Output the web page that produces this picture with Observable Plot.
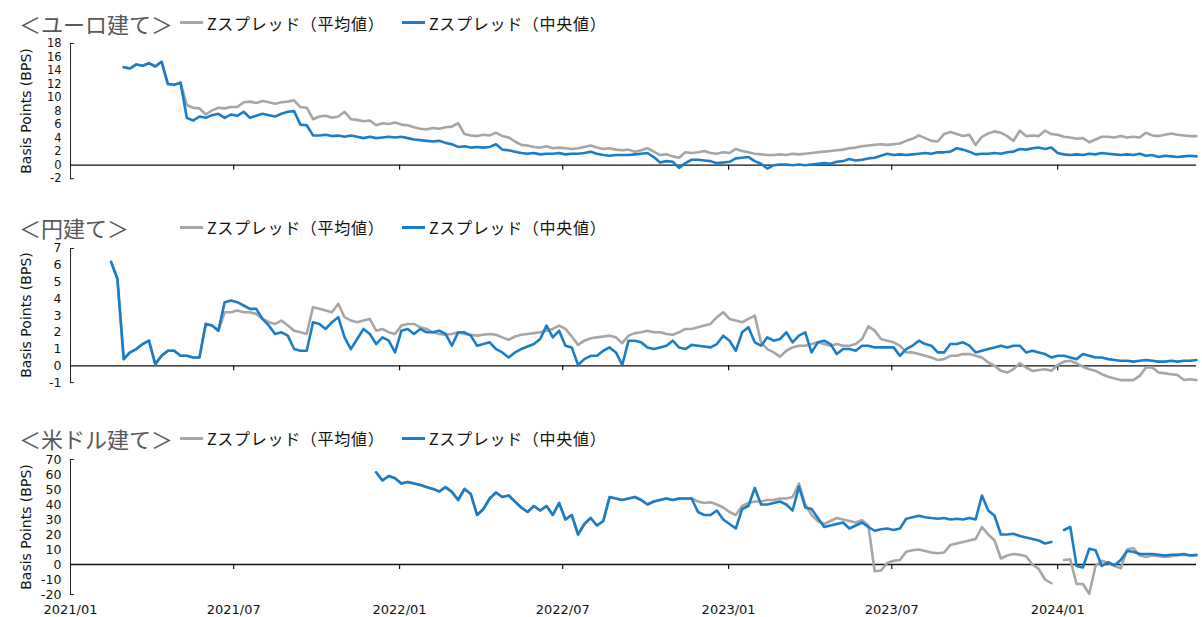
<!DOCTYPE html>
<html><head><meta charset="utf-8">
<script src="https://cdn.jsdelivr.net/npm/d3@7"></script>
<script src="https://cdn.jsdelivr.net/npm/@observablehq/plot@0.6"></script>
<style>
body{margin:0;background:#fff;}
#chart{position:relative;width:1202px;height:617px;overflow:hidden;background:#fff;font-family:"Noto Sans CJK JP","Noto Sans",sans-serif;}
.title{position:absolute;left:19px;font-size:22px;line-height:22px;color:#595959;white-space:nowrap;}
.leg{position:absolute;font-size:16px;line-height:18px;letter-spacing:0.7px;color:#111;white-space:nowrap;display:flex;align-items:center;}
.leg i{display:inline-block;width:23px;height:3px;margin-right:4px;}
.ylab{position:absolute;font-family:"DejaVu Sans",sans-serif;font-size:14px;color:#111;white-space:nowrap;transform:translate(-50%,-50%) rotate(-90deg);}
#chart svg{position:absolute;left:0;overflow:visible;}
</style></head><body><div id="chart"></div><script>
// ---- data (weekly observations) ----
const weekStep = 7;
const eurStart = "2021-03-01";
const eurMedian = [
14.5,14.3,14.9,14.7,15.1,14.6,15.3,12.0,11.9,12.2,
7.0,6.6,7.2,7.0,7.4,7.6,7.0,7.5,7.3,7.9,
7.0,7.3,7.6,7.4,7.2,7.6,7.9,8.0,6.0,5.9,
4.4,4.4,4.5,4.3,4.4,4.2,4.4,4.2,4.0,4.2,
4.0,4.1,4.2,4.1,4.2,4.0,3.8,3.7,3.6,3.5,
3.6,3.3,3.1,2.7,2.8,2.6,2.7,2.6,2.7,3.1,
2.3,2.2,2.0,1.8,1.7,1.8,1.6,1.7,1.7,1.8,
1.6,1.7,1.7,1.8,2.0,1.7,1.5,1.4,1.5,1.5,
1.5,1.6,1.7,1.8,1.2,0.4,0.6,0.5,-0.4,0.3,
0.8,0.8,0.7,0.6,0.3,0.4,0.5,1.0,1.1,1.2,
0.6,0.2,-0.5,0.0,0.1,0.1,0.0,0.1,0.0,0.1,
0.2,0.3,0.2,0.5,0.6,0.9,0.7,0.8,1.0,1.1,
1.4,1.7,1.5,1.6,1.5,1.6,1.7,1.8,1.7,1.9,
1.9,2.0,2.5,2.3,2.0,1.6,1.7,1.7,1.8,1.7,
1.9,2.0,2.4,2.3,2.5,2.6,2.4,2.6,1.8,1.6,
1.5,1.6,1.5,1.7,1.6,1.8,1.7,1.6,1.5,1.6,
1.5,1.7,1.4,1.5,1.2,1.4,1.3,1.2,1.3,1.4,1.3];
const eurMean = [
14.5,14.3,14.9,14.7,15.1,14.6,15.3,12.0,11.9,12.2,
8.9,8.5,8.4,7.5,8.1,8.5,8.4,8.6,8.6,9.3,
9.4,9.2,9.5,9.3,9.1,9.3,9.4,9.6,8.6,8.5,
6.8,7.2,7.3,7.0,7.2,7.9,6.8,6.7,6.5,6.6,
5.9,6.2,6.1,6.3,6.0,5.9,5.6,5.4,5.3,5.5,
5.4,5.6,5.7,6.2,4.6,4.4,4.3,4.5,4.4,4.8,
4.3,4.1,3.5,3.0,2.9,2.7,2.6,2.8,2.5,2.6,
2.5,2.4,2.5,2.7,2.9,2.6,2.4,2.5,2.3,2.2,
2.3,2.0,2.2,2.5,2.0,1.5,1.6,1.3,1.1,1.9,
1.8,1.9,2.1,1.8,1.7,1.9,1.8,2.4,2.1,1.9,
1.7,1.6,1.5,1.5,1.6,1.5,1.7,1.6,1.7,1.8,
1.9,2.0,2.1,2.2,2.3,2.5,2.6,2.8,2.9,3.0,
3.1,3.0,3.1,3.2,3.6,3.9,4.4,4.0,3.6,3.5,
4.6,4.9,4.6,4.3,4.5,3.0,4.2,4.7,5.0,4.8,
4.3,3.6,5.1,4.3,4.4,4.3,5.1,4.6,4.5,4.2,
4.1,3.9,4.0,3.4,3.8,4.2,4.2,4.1,4.3,4.1,
4.2,4.1,4.8,4.4,4.3,4.5,4.7,4.5,4.4,4.3,4.3];

const jpyStart = "2021-02-15";
const jpyMedian = [
6.2,5.2,0.4,0.8,1.0,1.3,1.5,0.1,0.6,0.9,
0.9,0.6,0.6,0.5,0.5,2.5,2.4,2.1,3.8,3.9,
3.8,3.6,3.4,3.4,2.8,2.4,1.9,2.0,1.8,1.0,
0.9,0.9,2.6,2.5,2.2,2.6,2.9,1.7,1.0,1.6,
2.2,1.9,1.3,1.7,1.5,0.8,2.1,2.2,1.9,2.2,
2.0,2.0,2.1,1.9,1.2,2.0,2.0,1.8,1.2,1.3,
1.4,1.0,0.8,0.5,0.8,1.0,1.15,1.3,1.6,2.4,
1.7,2.1,1.2,1.1,0.05,0.4,0.6,0.6,0.9,1.1,
0.8,0.05,1.5,1.5,1.4,1.1,1.0,1.1,1.2,1.5,
1.1,1.0,1.25,1.2,1.15,1.1,1.3,1.8,1.5,0.9,
2.0,2.3,1.4,1.2,1.7,1.5,1.6,2.0,1.4,1.8,
2.0,0.8,1.4,1.5,1.3,0.7,1.0,1.0,0.9,1.2,
1.2,1.1,1.1,1.1,1.1,0.6,1.0,1.2,1.5,1.3,
1.2,0.8,0.8,1.3,1.3,1.4,1.2,0.8,0.9,1.0,
1.1,1.2,1.1,1.2,1.2,0.8,0.9,0.8,0.7,0.5,
0.6,0.6,0.5,0.4,0.7,0.6,0.5,0.5,0.4,0.35,
0.3,0.3,0.25,0.3,0.35,0.3,0.25,0.25,0.3,0.25,0.3,0.3,0.35];
const jpyMean = [
6.2,5.2,0.4,0.8,1.0,1.3,1.5,0.1,0.6,0.9,
0.9,0.6,0.6,0.5,0.5,2.5,2.4,2.1,3.2,3.2,
3.3,3.2,3.2,3.1,2.8,2.6,2.5,2.7,2.4,2.1,
2.0,1.9,3.5,3.4,3.3,3.2,3.7,2.9,2.7,2.6,
2.7,2.8,2.1,2.2,2.0,1.9,2.4,2.5,2.5,2.3,
2.2,2.0,1.9,1.85,1.9,2.0,1.9,1.85,1.8,1.85,
1.9,1.85,1.7,1.55,1.75,1.85,1.9,1.95,2.0,2.1,
2.2,2.4,2.2,1.75,1.25,1.5,1.65,1.7,1.75,1.8,
1.7,1.35,1.8,1.95,2.0,2.1,2.0,2.0,1.9,1.85,
2.0,2.2,2.2,2.3,2.4,2.5,2.9,3.2,2.8,2.7,
2.6,2.8,3.0,1.4,1.0,0.8,0.55,0.9,1.1,1.2,
1.2,1.3,1.4,1.3,1.2,1.3,1.2,1.2,1.3,1.6,
2.35,2.1,1.6,1.5,1.4,1.2,0.8,0.8,0.7,0.6,
0.5,0.35,0.4,0.6,0.6,0.7,0.7,0.6,0.5,0.2,
0.0,-0.3,-0.4,-0.2,0.15,-0.1,-0.3,-0.25,-0.2,-0.3,
0.05,0.25,0.3,0.15,-0.05,-0.2,-0.3,-0.5,-0.65,-0.75,
-0.85,-0.85,-0.85,-0.6,-0.1,-0.1,-0.4,-0.45,-0.5,-0.55,-0.85,-0.8,-0.85];

const usdStart = "2021-12-06";
const usdMedian = [
61.5,56,59,57.5,54,55,54,53,51.6,50.4,
48.7,51.6,48.4,43,50.4,47,33,37,44,48,
45,46,42,38,35,39,36,39,33,41,
30,33,20,27,31,26,29,45,44,43,
44,45,43,40,42,43,44,43,44,44,
44,35,33,33,36,30,27,24,37,39,
51,40,40,41,42,40,36,52,38,37,
31,25,26,27,28,24,26,28,25,22.5,
23.5,24,23,24,30.5,31.5,32.5,31.5,31,30.5,
31,30,30.5,30,31,30,46,36,32.5,20,
20,20.5,19,18,17,16,14,15,null,23,
25,-1,-2,10.5,9.5,-1,1.5,-0.5,3,9,
8.5,7,7,7,6.5,6,6.5,6.5,7,6,6.5];
const usdMean = [
61.5,56,59,57.5,54,55,54,53,51.6,50.4,
48.7,51.6,48.4,43,50.4,47,33,37,44,48,
45,46,42,38,35,39,36,39,33,41,
30,33,20,27,31,26,29,45,44,43,
44,45,43,40,42,43,44,43,44,44,
44,42,41,41.5,40,38,35,33,39,41,
42,42,43,43,44,44,45,54,40,33,
29,27,29,31,30,29,28,29.5,26,-4.5,
-4,1,2.5,3,8.5,9.5,10,9,8,7.5,
8,13,14,15,16,17,25,20,16,4,
6,7,6.5,5.5,0,-3,-10,-12.5,null,3,
3.5,-13,-13,-19.5,-1,2.5,1,-1,-2.5,10,
11,6,5,6,5.5,5,5.5,6,6.5,6,6];

const eurTicks = [-2,0,2,4,6,8,10,12,14,16,18];
const jpyTicks = [-1,0,1,2,3,4,5,6,7];
const usdTicks = [-20,-10,0,10,20,30,40,50,60,70];
const xTickLabels = ["2021/01","2021/07","2022/01","2022/07","2023/01","2023/07","2024/01"];
const xDomain = ["2021-01-01","2024-06-03"];
const titles = ["＜ユーロ建て＞","＜円建て＞","＜米ドル建て＞"];
const legendLabels = ["Zスプレッド（平均値）","Zスプレッド（中央値）"];
const yLabel = "Basis Points (BPS)";

// ---- styles / layout ----
const colMean = "#a6a6a6", colMedian = "#1b7dc7";
const layout = [
  {top:43.3, plotH:135.2, titleTop:11.5, showX:false, tickFont:11.5},
  {top:248.3, plotH:134.1, titleTop:216, showX:false, tickFont:12.5},
  {top:459.3, plotH:135.0, titleTop:427, showX:true, tickFont:12.5}
];

function toSeries(start, values){
  const s = new Date(start + "T00:00:00Z");
  return values.map((v,i)=>({date: d3.utcDay.offset(s, weekStep*i), v}));
}
const xTicks = xTickLabels.map(l => { const [y,m] = l.split("/"); return new Date(Date.UTC(+y, +m-1, 1)); });
const xStart = new Date(xDomain[0]+"T00:00:00Z"), xEnd = new Date(xDomain[1]+"T00:00:00Z");

const panels = [
  {title:titles[0], mean:toSeries(eurStart,eurMean), median:toSeries(eurStart,eurMedian), ticks:eurTicks},
  {title:titles[1], mean:toSeries(jpyStart,jpyMean), median:toSeries(jpyStart,jpyMedian), ticks:jpyTicks},
  {title:titles[2], mean:toSeries(usdStart,usdMean), median:toSeries(usdStart,usdMedian), ticks:usdTicks}
];

const chart = document.getElementById("chart");
panels.forEach((p, k) => {
  const L = layout[k];
  const mt = 10, mb = L.showX ? 22 : 8;
  const yDom = [p.ticks[0], p.ticks[p.ticks.length-1]];
  const svg = Plot.plot({
    width: 1202, height: mt + L.plotH + mb,
    marginLeft: 70, marginRight: 6, marginTop: mt, marginBottom: mb,
    style: {fontFamily:"'DejaVu Sans',sans-serif", fontSize:"13px", color:"#111", background:"transparent", overflow:"visible"},
    x: {type:"utc", domain:[xStart, xEnd], axis:null},
    y: {domain:yDom, axis:null},
    marks: [
      Plot.axisY(p.ticks, {tickSize:0, tickPadding:9, label:null, fontSize:L.tickFont, tickFormat:d=>String(d)}),
      L.showX ? Plot.axisX(xTicks, {tickSize:0, tickPadding:10, label:null, fontSize:13, tickFormat:d3.utcFormat("%Y/%m")}) : null,
      Plot.frame({anchor:"left", stroke:"#222", strokeWidth:1}),
      Plot.ruleY(yDom, {x1:xStart, x2:xStart, insetRight:-4, stroke:"#222"}),
      Plot.ruleY([0], {stroke:"#111", strokeWidth:1.3}),
      Plot.ruleX(xTicks.slice(1), {x:d=>d, y1:0, y2:0, insetBottom:-5, stroke:"#111", strokeWidth:1.2}),
      Plot.line(p.mean, {x:"date", y:"v", stroke:colMean, strokeWidth:2.6}),
      Plot.line(p.median, {x:"date", y:"v", stroke:colMedian, strokeWidth:2.6})
    ]
  });
  svg.style.top = (L.top - mt) + "px";
  chart.appendChild(svg);

  const t = document.createElement("div");
  t.className = "title"; t.textContent = p.title; t.style.top = L.titleTop + "px";
  chart.appendChild(t);
  [[180, colMean, legendLabels[0]], [402, colMedian, legendLabels[1]]].forEach(([x, c, txt]) => {
    const d = document.createElement("div");
    d.className = "leg"; d.style.left = x + "px"; d.style.top = (L.titleTop + 2) + "px";
    d.innerHTML = `<i style="background:${c}"></i><span>${txt}</span>`;
    chart.appendChild(d);
  });
  const yl = document.createElement("div");
  yl.className = "ylab"; yl.textContent = yLabel;
  yl.style.left = "26px"; yl.style.top = (L.top + L.plotH/2) + "px";
  chart.appendChild(yl);
});
</script></body></html>
